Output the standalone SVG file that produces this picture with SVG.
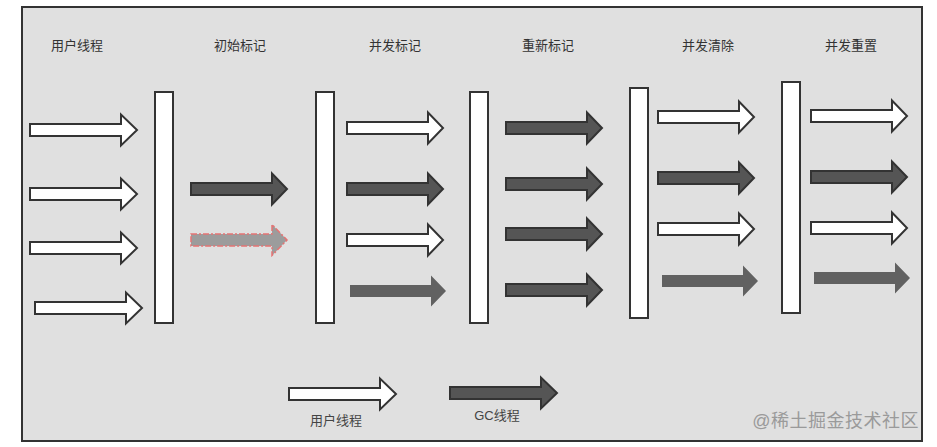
<svg xmlns="http://www.w3.org/2000/svg" xmlns:xlink="http://www.w3.org/1999/xlink" width="937" height="447" viewBox="0 0 937 447">
  <style>
    .lbl { font-family: "Liberation Sans", "Noto Sans CJK SC", sans-serif; font-size: 13px; fill: #333; text-anchor: middle; }
    .leg { font-family: "Liberation Sans", "Noto Sans CJK SC", sans-serif; font-size: 13px; fill: #444; text-anchor: middle; }
    .wm { font-family: "Liberation Sans", "Noto Sans CJK SC", sans-serif; font-size: 18px; fill: #9a9a9a; text-anchor: end; letter-spacing: 0.5px; }
    .bar { fill: #fff; stroke: #333; stroke-width: 2; }
    .user { fill: #fff; stroke: #333; stroke-width: 2; stroke-linejoin: miter; }
    .gc { fill: #555; stroke: #333; stroke-width: 2; }
    .gcs { fill: #616161; stroke: none; }
    .pend { fill: #9c9c9c; stroke: #e57373; stroke-width: 1.5; stroke-dasharray: 6 2 2 2; }
  </style>
  <defs>
    <path id="longA" d="M0,-6 H91 V-15.5 L107,0 L91,15.5 V6 H0 Z"/>
    <path id="shortA" d="M0,-6 H81 V-15.5 L96,0 L81,15.5 V6 H0 Z"/>
  </defs>

  <rect x="0" y="0" width="937" height="447" fill="#fff"/>
  <rect id="frame" x="22" y="7" width="900" height="434" fill="#e0e0e0" stroke="#333" stroke-width="2"/>

  <g id="headers">
    <text class="lbl" x="77" y="50">用户线程</text>
    <text class="lbl" x="240" y="50">初始标记</text>
    <text class="lbl" x="395" y="50">并发标记</text>
    <text class="lbl" x="548" y="50">重新标记</text>
    <text class="lbl" x="708" y="50">并发清除</text>
    <text class="lbl" x="851" y="50">并发重置</text>
  </g>

  <g id="bar1"><rect class="bar" x="155" y="92" width="18" height="231"/></g>
  <g id="bar2"><rect class="bar" x="316" y="92" width="18" height="231"/></g>
  <g id="bar3"><rect class="bar" x="470" y="92" width="18" height="231"/></g>
  <g id="bar4"><rect class="bar" x="630" y="88" width="18" height="230"/></g>
  <g id="bar5"><rect class="bar" x="782" y="82" width="18" height="231"/></g>

  <g id="connectors">
    <g id="col1">
      <use xlink:href="#longA" class="user" transform="translate(30,130)"/>
      <use xlink:href="#longA" class="user" transform="translate(30,194)"/>
      <use xlink:href="#longA" class="user" transform="translate(30,248)"/>
      <use xlink:href="#longA" class="user" transform="translate(35,308)"/>
    </g>
    <g id="col2">
      <use xlink:href="#shortA" class="gc" transform="translate(191,189)"/>
      <use xlink:href="#shortA" class="pend" transform="translate(191,240)"/>
    </g>
    <g id="col3">
      <use xlink:href="#shortA" class="user" transform="translate(347,128)"/>
      <use xlink:href="#shortA" class="gc" transform="translate(347,189)"/>
      <use xlink:href="#shortA" class="user" transform="translate(347,240)"/>
      <use xlink:href="#shortA" class="gcs" transform="translate(350,291)"/>
    </g>
    <g id="col4">
      <use xlink:href="#shortA" class="gc" transform="translate(506,128)"/>
      <use xlink:href="#shortA" class="gc" transform="translate(506,184)"/>
      <use xlink:href="#shortA" class="gc" transform="translate(506,234)"/>
      <use xlink:href="#shortA" class="gc" transform="translate(506,290)"/>
    </g>
    <g id="col5">
      <use xlink:href="#shortA" class="user" transform="translate(658,117)"/>
      <use xlink:href="#shortA" class="gc" transform="translate(658,178)"/>
      <use xlink:href="#shortA" class="user" transform="translate(658,229)"/>
      <use xlink:href="#shortA" class="gcs" transform="translate(662,281)"/>
    </g>
    <g id="col6">
      <use xlink:href="#shortA" class="user" transform="translate(811,116)"/>
      <use xlink:href="#shortA" class="gc" transform="translate(811,177)"/>
      <use xlink:href="#shortA" class="user" transform="translate(811,228)"/>
      <use xlink:href="#shortA" class="gcs" transform="translate(814,278)"/>
    </g>
  </g>

  <g id="legend">
    <use xlink:href="#longA" class="user" transform="translate(289,394)"/>
    <text class="leg" x="336" y="425">用户线程</text>
    <use xlink:href="#longA" class="gc" transform="translate(450,393)"/>
    <text class="leg" x="497" y="420">GC线程</text>
  </g>

  <text class="wm" x="919" y="427">@稀土掘金技术社区</text>
</svg>
